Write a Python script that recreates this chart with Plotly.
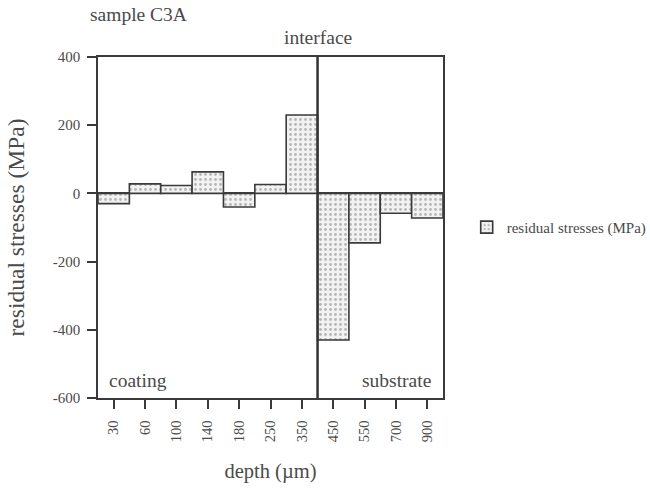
import plotly.graph_objects as go

# depth positions (µm) and measured residual stresses (MPa)
depths = ["30", "60", "100", "140", "180", "250", "350", "450", "550", "700", "900"]
stresses = [-30, 28, 23, 63, -40, 26, 230, -430, -145, -58, -72]

y_ticks = [400, 200, 0, -200, -400, -600]
y_tick_text = ["400", "200", "0", "-200", "-400", "-600"]

INK = "#4a4a4a"
FONT = "Liberation Serif"

fig = go.Figure()
fig.add_trace(go.Bar(
    x=depths,
    y=stresses,
    width=1.0,
    name="residual stresses (MPa)",
    marker=dict(
        color="#f2f2f2",
        line=dict(color="#3a3a3a", width=1.6),
        pattern=dict(shape=".", fgcolor="#7a7a7a", bgcolor="#f2f2f2",
                     size=5, solidity=0.25),
    ),
))

# interface between coating and substrate
fig.add_shape(type="line", xref="x", yref="paper",
              x0=6.5, x1=6.5, y0=0, y1=1,
              line=dict(color="#333333", width=2.5))

fig.update_layout(
    width=650, height=489,
    margin=dict(l=98, r=207, t=57, b=91, autoexpand=False),
    paper_bgcolor="white", plot_bgcolor="white",
    font=dict(family=FONT, color=INK, size=15),
    showlegend=True,
    legend=dict(xref="container", yref="container",
                x=0.718, y=0.535, xanchor="left", yanchor="middle",
                font=dict(family=FONT, size=15, color=INK),
                bgcolor="rgba(0,0,0,0)"),
    xaxis=dict(
        type="category",
        showline=True, linecolor="#3a3a3a", linewidth=1.5, mirror=True,
        ticks="outside", ticklen=9, tickcolor="#3a3a3a", tickwidth=1.5,
        tickangle=-90, tickfont=dict(size=14.5),
        ticklabelstandoff=6,
        showgrid=False,
        title=dict(text="depth (µm)", font=dict(size=20.5), standoff=22),
    ),
    yaxis=dict(
        range=[-600, 400],
        tickvals=y_ticks, ticktext=y_tick_text,
        showline=True, linecolor="#3a3a3a", linewidth=1.5, mirror=True,
        ticks="outside", ticklen=9, tickcolor="#3a3a3a", tickwidth=1.5,
        tickfont=dict(size=15),
        ticklabelstandoff=4,
        showgrid=False,
        zeroline=True, zerolinecolor="#3a3a3a", zerolinewidth=1.5,
        title=dict(text="residual stresses (MPa)", font=dict(size=23.5), standoff=22),
    ),
    annotations=[
        dict(text="sample C3A", xref="paper", yref="paper", x=-0.028, y=1.124,
             xanchor="left", yanchor="middle", showarrow=False,
             font=dict(size=19.5)),
        dict(text="interface", xref="x", yref="paper", x=6.5, y=1.057,
             xanchor="center", yanchor="middle", showarrow=False,
             font=dict(size=19.5)),
        dict(text="coating", xref="paper", yref="paper", x=0.027, y=0.05,
             xanchor="left", yanchor="middle", showarrow=False,
             font=dict(size=19.5)),
        dict(text="substrate", xref="paper", yref="paper", x=0.970, y=0.05,
             xanchor="right", yanchor="middle", showarrow=False,
             font=dict(size=19.5)),
    ],
)

fig.write_html("out.html")
